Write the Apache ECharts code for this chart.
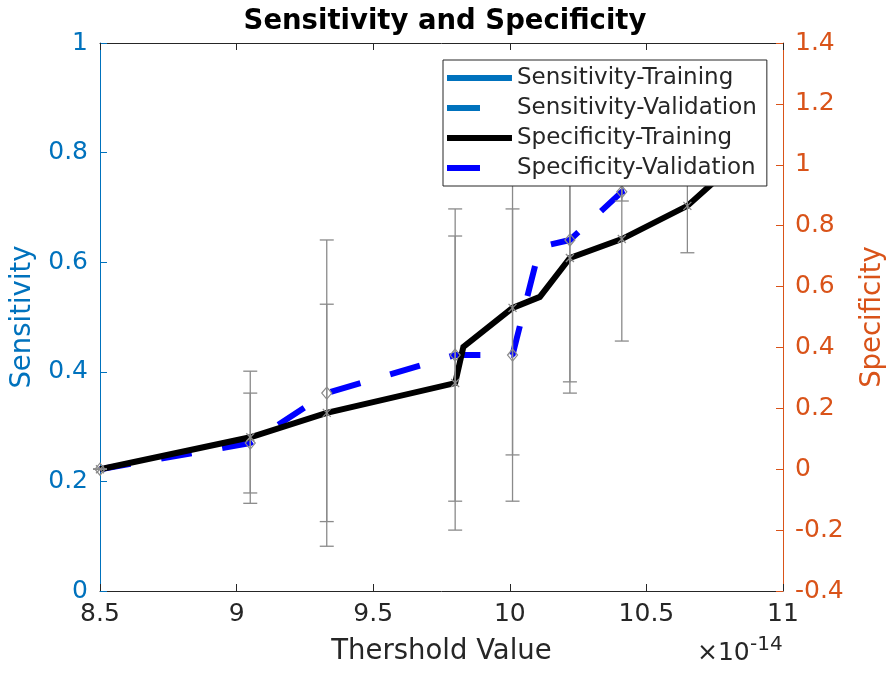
<!DOCTYPE html>
<html>
<head>
<meta charset="utf-8">
<script src="https://cdn.jsdelivr.net/npm/echarts@6/dist/echarts.min.js"></script>
<style>
  html, body { margin: 0; padding: 0; background: #fff; }
  #chart { width: 890px; height: 673px; }
</style>
</head>
<body>
<div id="chart"></div>
<script>
// Threshold values (axis units, x 1e-14)
const thresholds = [8.5, 9.05, 9.33, 9.80, 9.83, 10.01, 10.11, 10.22, 10.41, 10.65, 10.78];

// Specificity curves (right axis)
const specTraining   = [0.00, 0.105, 0.185, 0.283, 0.402, 0.530, 0.566, 0.694, 0.756, 0.865, 0.97];
const specValidation = [0.00, 0.086, 0.250, 0.375, 0.375, 0.375, 0.730, 0.753, 0.911, 1.00, 1.08];

// Standard deviations shown as error bars (null = no bar at that threshold)
const specTrainingStd   = [0, 0.217, 0.357, 0.483, null, 0.483, null, 0.407, 0.335, 0.154, null];
const specValidationStd = [0, 0.164, 0.503, 0.480, null, 0.480, null, 0.503, 0.030, 0.050, null];

// Sensitivity curves (left axis)
const sensTraining   = [];
const sensValidation = [];

const FONT = 'DejaVu Sans';
const AXIS_DARK = '#262626';
const BLUE = '#0072BD';
const ORANGE = '#D95319';
const GREY = '#8a8a8a';
const DASH = [31, 31];

// legend swatches: a 6px bar inside a 65x24 box (full length / one dash)
const ICON_SOLID = 'path://M0,0L0,0.01M65,24L65,24.01M0,9L65,9L65,15L0,15Z';
const ICON_DASH  = 'path://M0,0L0,0.01M65,24L65,24.01M0,9L33,9L33,15L0,15Z';

const pairs = (xs, ys) => xs.map((x, i) => [x, ys[i]]);
const sensPairs = (ys) => ys.map((y, i) => [thresholds[i], y]);

// error-bar items: [x, mean, std, kind] kind 0 = training (x marker), 1 = validation (diamond)
const errItems = [];
thresholds.forEach((x, i) => {
  if (specTrainingStd[i] !== null) errItems.push([x, specTraining[i], specTrainingStd[i], 0]);
  if (specValidationStd[i] !== null) errItems.push([x, specValidation[i], specValidationStd[i], 1]);
});

function fmt(v) { return String(+v.toFixed(2)); }

function renderErrorBar(params, api) {
  const x = api.value(0), y = api.value(1), e = api.value(2), kind = api.value(3);
  const c = api.coord([x, y]);
  const top = api.coord([x, y + e]);
  const bot = api.coord([x, y - e]);
  const hw = 7;
  const st = { stroke: GREY, lineWidth: 1.3, fill: null };
  const children = [
    { type: 'line', shape: { x1: c[0], y1: top[1], x2: c[0], y2: bot[1] }, style: st },
    { type: 'line', shape: { x1: c[0] - hw, y1: top[1], x2: c[0] + hw, y2: top[1] }, style: st },
    { type: 'line', shape: { x1: c[0] - hw, y1: bot[1], x2: c[0] + hw, y2: bot[1] }, style: st }
  ];
  if (kind === 0) {
    const s = 4;
    children.push({ type: 'line', shape: { x1: c[0] - s, y1: c[1] - s, x2: c[0] + s, y2: c[1] + s }, style: st });
    children.push({ type: 'line', shape: { x1: c[0] - s, y1: c[1] + s, x2: c[0] + s, y2: c[1] - s }, style: st });
  } else {
    const w = 5, h = 6;
    children.push({
      type: 'polygon',
      shape: { points: [[c[0], c[1] - h], [c[0] + w, c[1]], [c[0], c[1] + h], [c[0] - w, c[1]]] },
      style: { stroke: GREY, lineWidth: 1.2, fill: null }
    });
  }
  return { type: 'group', children };
}

const chart = echarts.init(document.getElementById('chart'), null, { renderer: 'canvas' });

chart.setOption({
  backgroundColor: '#fff',
  animation: false,
  textStyle: { fontFamily: FONT },
  title: {
    text: 'Sensitivity and Specificity',
    left: 'center',
    top: 8,
    padding: 0,
    textStyle: { fontFamily: FONT, fontSize: 27.5, fontWeight: 'bold', color: '#000' }
  },
  grid: { left: 100, top: 43, width: 683, height: 548, containLabel: false, outerBoundsMode: 'none' },
  legend: {
    data: [
      { name: 'Sensitivity-Training', icon: ICON_SOLID },
      { name: 'Sensitivity-Validation', icon: ICON_DASH },
      { name: 'Specificity-Training', icon: ICON_SOLID },
      { name: 'Specificity-Validation', icon: ICON_DASH }
    ],
    orient: 'vertical',
    left: 443,
    top: 60,
    z: 10,
    itemWidth: 65,
    itemHeight: 24,
    itemGap: 6,
    padding: [6, 10, 6, 4],
    backgroundColor: '#fff',
    borderColor: AXIS_DARK,
    borderWidth: 1,
    borderRadius: 0,
    textStyle: { fontFamily: FONT, fontSize: 23, color: AXIS_DARK }
  },
  xAxis: [
    {
      type: 'value', min: 8.5, max: 11, interval: 0.5, position: 'bottom',
      name: 'Thershold Value', nameLocation: 'middle', nameGap: 47,
      nameTextStyle: { fontFamily: FONT, fontSize: 27.5, color: AXIS_DARK },
      axisLine: { show: true, onZero: false, lineStyle: { color: AXIS_DARK, width: 1 } },
      axisTick: { show: true, inside: true, length: 7, lineStyle: { color: AXIS_DARK } },
      axisLabel: { fontFamily: FONT, fontSize: 25, color: AXIS_DARK, margin: 11, formatter: fmt },
      splitLine: { show: false }
    },
    {
      type: 'value', min: 8.5, max: 11, interval: 0.5, position: 'top',
      axisLine: { show: true, onZero: false, lineStyle: { color: AXIS_DARK, width: 1 } },
      axisTick: { show: true, inside: true, length: 7, lineStyle: { color: AXIS_DARK } },
      axisLabel: { show: false },
      splitLine: { show: false }
    }
  ],
  yAxis: [
    {
      type: 'value', min: 0, max: 1, interval: 0.2, position: 'left',
      name: 'Sensitivity', nameLocation: 'middle', nameGap: 49, nameRotate: 90,
      nameTextStyle: { fontFamily: FONT, fontSize: 27.5, color: BLUE },
      axisLine: { show: true, onZero: false, lineStyle: { color: BLUE, width: 1 } },
      axisTick: { show: true, inside: true, length: 7, lineStyle: { color: BLUE } },
      axisLabel: { fontFamily: FONT, fontSize: 25, color: BLUE, margin: 12, formatter: fmt },
      splitLine: { show: false }
    },
    {
      type: 'value', min: -0.4, max: 1.4, interval: 0.2, position: 'right',
      name: 'Specificity', nameLocation: 'middle', nameGap: 76, nameRotate: 90,
      nameTextStyle: { fontFamily: FONT, fontSize: 27.5, color: ORANGE },
      axisLine: { show: true, onZero: false, lineStyle: { color: ORANGE, width: 1 } },
      axisTick: { show: true, inside: true, length: 7, lineStyle: { color: ORANGE } },
      axisLabel: { fontFamily: FONT, fontSize: 25, color: ORANGE, margin: 12, formatter: fmt },
      splitLine: { show: false }
    }
  ],
  graphic: [
    {
      type: 'text', x: 697, y: 653,
      style: { text: '×10', fontFamily: FONT, fontSize: 25, fill: AXIS_DARK, verticalAlign: 'middle', align: 'left' }
    },
    {
      type: 'text', x: 750, y: 645,
      style: { text: '-14', fontFamily: FONT, fontSize: 20, fill: AXIS_DARK, verticalAlign: 'middle', align: 'left' }
    }
  ],
  series: [
    {
      name: 'Sensitivity-Training', type: 'line', xAxisIndex: 0, yAxisIndex: 0,
      data: sensPairs(sensTraining), symbol: 'none', color: BLUE,
      lineStyle: { color: BLUE, width: 6 }
    },
    {
      name: 'Sensitivity-Validation', type: 'line', xAxisIndex: 0, yAxisIndex: 0,
      data: sensPairs(sensValidation), symbol: 'none', color: BLUE,
      lineStyle: { color: BLUE, width: 6, type: DASH }
    },
    {
      name: 'Specificity-Training', type: 'line', xAxisIndex: 0, yAxisIndex: 1,
      data: pairs(thresholds, specTraining), symbol: 'none', color: '#000',
      lineStyle: { color: '#000', width: 6, cap: 'butt', join: 'miter' }, z: 3
    },
    {
      name: 'Specificity-Validation', type: 'line', xAxisIndex: 0, yAxisIndex: 1,
      data: pairs(thresholds, specValidation), symbol: 'none', color: '#0000FF',
      lineStyle: { color: '#0000FF', width: 6, type: DASH, cap: 'butt' }, z: 2
    },
    {
      name: 'errorbars', type: 'custom', xAxisIndex: 0, yAxisIndex: 1,
      data: errItems, renderItem: renderErrorBar, z: 5, silent: true
    }
  ]
});
</script>
</body>
</html>
